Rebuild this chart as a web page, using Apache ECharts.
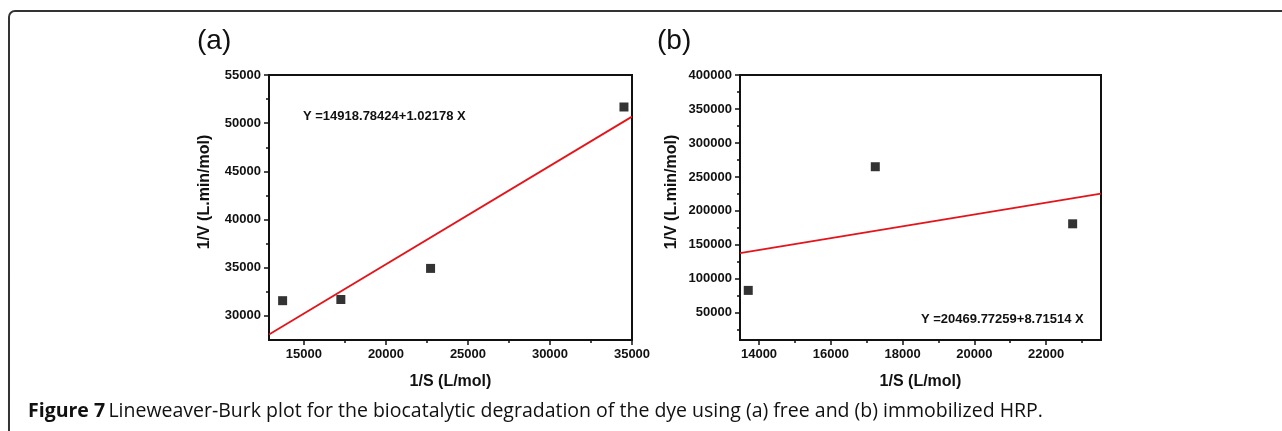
<!DOCTYPE html>
<html>
<head>
<meta charset="utf-8">
<script src="https://cdn.jsdelivr.net/npm/echarts@6/dist/echarts.min.js"></script>
<style>
  html, body { margin: 0; padding: 0; background: #fff; }
  #chart { width: 1282px; height: 431px; }
</style>
</head>
<body>
<div id="chart"></div>
<script>
// panel (a): free HRP
const substrateA = [13700, 17250, 22720, 34510];
const rateA = [31580, 31700, 34930, 51680];
const fitA = [[12870, 28070], [35000, 50680]];
const xMajorA = [15000, 20000, 25000, 30000, 35000];
const xMinorA = [17500, 22500, 27500, 32500];
const yMajorA = [30000, 35000, 40000, 45000, 50000, 55000];
const yMinorA = [32500, 37500, 42500, 47500, 52500];

// panel (b): immobilized HRP
const substrateB = [13700, 17240, 22740];
const rateB = [83000, 265000, 181000];
const fitB = [[13470, 137870], [23530, 225540]];
const xMajorB = [14000, 16000, 18000, 20000, 22000];
const xMinorB = [15000, 17000, 19000, 21000, 23000];
const yMajorB = [50000, 100000, 150000, 200000, 250000, 300000, 350000, 400000];
const yMinorB = [25000, 75000, 125000, 175000, 225000, 275000, 325000, 375000];

const FONT = "'Liberation Sans', Arial, sans-serif";
const INK = '#111';

const chart = echarts.init(document.getElementById('chart'), null, {renderer: 'canvas'});

// main axis with labels + long ticks
function majorAxis(grid, min, max, ticks, extra) {
  return Object.assign({
    type: 'value', gridIndex: grid, min: min, max: max,
    splitLine: {show: false},
    axisLine: {show: true, onZero: false, lineStyle: {color: INK, width: 2}},
    axisTick: {show: true, inside: false, length: 5, customValues: ticks, lineStyle: {color: INK, width: 1.5}},
    axisLabel: {
      show: true, customValues: ticks, margin: 8, color: INK,
      fontFamily: FONT, fontWeight: 'bold', fontSize: 13,
      formatter: (v) => String(v),  // no thousands separator
    },
  }, extra);
}

// second axis on the same grid, only the short minor ticks
function minorAxis(grid, min, max, ticks, pos) {
  return {
    type: 'value', gridIndex: grid, min: min, max: max, position: pos, offset: 0,
    splitLine: {show: false},
    axisLine: {show: false, onZero: false},
    axisTick: {show: true, inside: false, length: 3, customValues: ticks, lineStyle: {color: INK, width: 1.5}},
    axisLabel: {show: false},
  };
}

const axisName = {
  nameLocation: 'middle', nameGap: 34,
  nameTextStyle: {color: INK, fontFamily: FONT, fontWeight: 'bold', fontSize: 16},
};

const option = {
  animation: false,
  backgroundColor: '#fff',
  grid: [
    {left: 269, top: 75, width: 363, height: 265, show: true, borderColor: INK, borderWidth: 2},
    {left: 740, top: 75, width: 361, height: 265, show: true, borderColor: INK, borderWidth: 2},
  ],
  xAxis: [
    majorAxis(0, 12870, 35000, xMajorA, Object.assign({position: 'bottom', name: '1/S (L/mol)'}, axisName)),
    minorAxis(0, 12870, 35000, xMinorA, 'bottom'),
    majorAxis(1, 13470, 23530, xMajorB, Object.assign({position: 'bottom', name: '1/S (L/mol)'}, axisName)),
    minorAxis(1, 13470, 23530, xMinorB, 'bottom'),
  ],
  yAxis: [
    majorAxis(0, 27500, 55000, yMajorA, {position: 'left'}),
    minorAxis(0, 27500, 55000, yMinorA, 'left'),
    majorAxis(1, 10000, 400000, yMajorB, {position: 'left'}),
    minorAxis(1, 10000, 400000, yMinorB, 'left'),
  ],
  series: [
    {
      type: 'line', xAxisIndex: 0, yAxisIndex: 0, data: fitA,
      symbol: 'none', lineStyle: {color: '#e3151b', width: 1.8},
    },
    {
      type: 'scatter', xAxisIndex: 0, yAxisIndex: 0,
      data: substrateA.map((x, i) => [x, rateA[i]]),
      symbol: 'rect', symbolSize: 9, itemStyle: {color: '#000'},
    },
    {
      type: 'line', xAxisIndex: 2, yAxisIndex: 2, data: fitB,
      symbol: 'none', lineStyle: {color: '#e3151b', width: 1.8},
    },
    {
      type: 'scatter', xAxisIndex: 2, yAxisIndex: 2,
      data: substrateB.map((x, i) => [x, rateB[i]]),
      symbol: 'rect', symbolSize: 9, itemStyle: {color: '#000'},
    },
  ],
  graphic: [
    // rounded frame around the figure (right/bottom run off the page)
    {type: 'rect', shape: {x: 9, y: 11, width: 1300, height: 460, r: 6}, style: {fill: null, stroke: '#333', lineWidth: 2}, silent: true},
    {type: 'text', left: 197, top: 27, style: {text: '(a)', font: "28px " + FONT, fill: INK}},
    {type: 'text', left: 657, top: 27, style: {text: '(b)', font: "28px " + FONT, fill: INK}},
    {type: 'text', x: 205, y: 192, rotation: Math.PI / 2,
      style: {text: '1/V (L.min/mol)', font: "bold 16px " + FONT, fill: INK, align: 'center', verticalAlign: 'middle'}},
    {type: 'text', x: 672, y: 192, rotation: Math.PI / 2,
      style: {text: '1/V (L.min/mol)', font: "bold 16px " + FONT, fill: INK, align: 'center', verticalAlign: 'middle'}},
    {type: 'text', x: 303, y: 116,
      style: {text: 'Y =14918.78424+1.02178 X', font: "bold 13px " + FONT, fill: INK, verticalAlign: 'middle'}},
    {type: 'text', x: 921, y: 319,
      style: {text: 'Y =20469.77259+8.71514 X', font: "bold 13px " + FONT, fill: INK, verticalAlign: 'middle'}},
    {type: 'text', x: 28, y: 411,
      style: {
        text: '{b|Figure 7} {n|Lineweaver-Burk plot for the biocatalytic degradation of the dye using (a) free and (b) immobilized HRP.}',
        verticalAlign: 'middle',
        rich: {
          b: {fontFamily: "'Open Sans', sans-serif", fontWeight: 'bold', fontSize: 19.5, fill: '#111'},
          n: {fontFamily: "'Open Sans', sans-serif", fontWeight: 'normal', fontSize: 19.5, fill: '#111'},
        }
      }},
  ],
};

chart.setOption(option);
</script>
</body>
</html>
